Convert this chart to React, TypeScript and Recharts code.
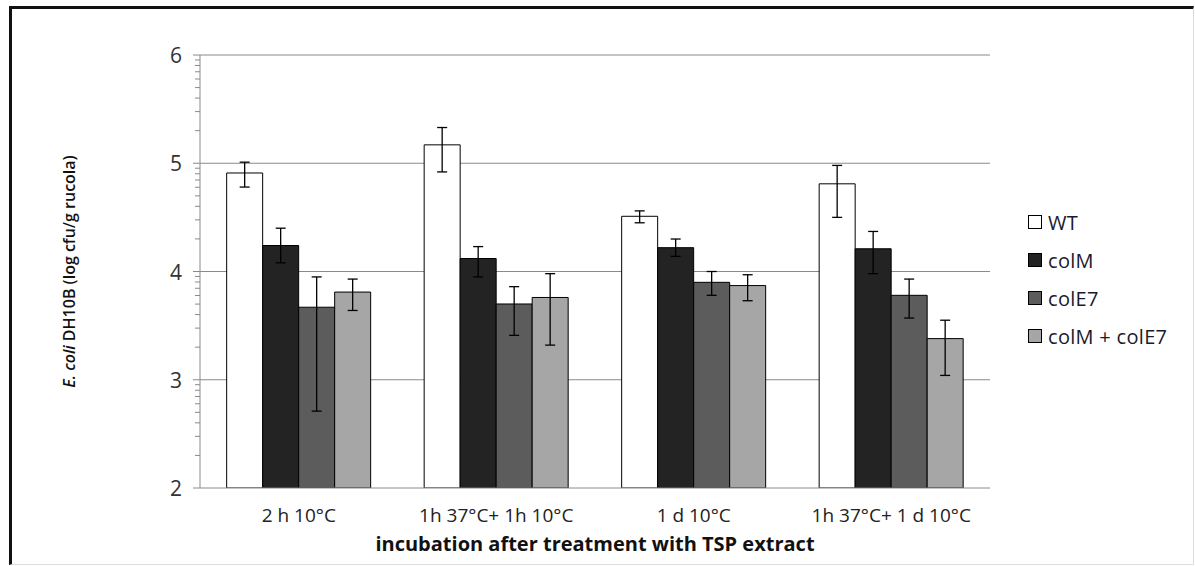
import React from 'react';
import { BarChart, Bar, XAxis, YAxis, CartesianGrid, ErrorBar, Legend, Label } from 'recharts';

const categories = ['2 h 10°C', '1h 37°C+ 1h 10°C', '1 d 10°C', '1h 37°C+ 1 d 10°C'];
const seriesNames = ['WT', 'colM', 'colE7', 'colM + colE7'];
const seriesColors = ['#ffffff', '#232323', '#5c5c5c', '#a6a6a6'];

const wtValues = [4.91, 5.17, 4.51, 4.81];
const colMValues = [4.24, 4.12, 4.22, 4.21];
const colE7Values = [3.67, 3.70, 3.90, 3.78];
const colMcolE7Values = [3.81, 3.76, 3.87, 3.38];

// [minus, plus]
const wtErrors = [[0.13, 0.10], [0.25, 0.16], [0.06, 0.05], [0.31, 0.17]];
const colMErrors = [[0.16, 0.16], [0.17, 0.11], [0.08, 0.08], [0.23, 0.16]];
const colE7Errors = [[0.96, 0.28], [0.29, 0.16], [0.12, 0.10], [0.21, 0.15]];
const colMcolE7Errors = [[0.17, 0.12], [0.44, 0.22], [0.14, 0.10], [0.34, 0.17]];

const majorTicks = [2, 3, 4, 5, 6];
const minorMultipliers = [2, 3, 4, 5, 6, 7, 8, 9];

const values = [wtValues, colMValues, colE7Values, colMcolE7Values];
const errors = [wtErrors, colMErrors, colE7Errors, colMcolE7Errors];

const data = categories.map((cat, i) => {
  const row: any = { cat };
  seriesNames.forEach((s, j) => {
    row['s' + j] = values[j][i];
    row['e' + j] = errors[j][i];
  });
  return row;
});

const minorTicks: number[] = [];
majorTicks.slice(0, -1).forEach((m) => {
  minorMultipliers.forEach((k) => minorTicks.push(m + Math.log10(k)));
});
const allTicks = [...majorTicks, ...minorTicks].sort((a, b) => a - b);

const FONT = '"Open Sans", sans-serif';

const YTick = (props: any) => {
  const { x, y, payload } = props;
  const v = payload.value;
  const isMajor = majorTicks.some((m) => Math.abs(m - v) < 1e-6);
  return (
    <g>
      <line x1={x - (isMajor ? 7 : 5)} x2={x} y1={y} y2={y} stroke="#8a8a8a" strokeWidth={1} />
      {isMajor && (
        <text x={x - 18} y={y} textAnchor="end" dominantBaseline="central" fontSize={21} fill="#333" fontFamily={FONT}>
          {v}
        </text>
      )}
    </g>
  );
};

const YTitle = (props: any) => {
  const { viewBox } = props;
  const cx = viewBox.x + 9;
  const cy = viewBox.y + viewBox.height / 2;
  return (
    <text
      x={cx}
      y={cy}
      transform={`rotate(-90, ${cx}, ${cy})`}
      textAnchor="middle"
      dominantBaseline="central"
      fontSize={16}
      fontWeight={600}
      fill="#111"
      fontFamily={FONT}
    >
      <tspan fontStyle="italic">E. coli</tspan>
      <tspan> DH10B (log cfu/g rucola)</tspan>
    </text>
  );
};

const LegendContent = () => (
  <div style={{ fontFamily: FONT, fontSize: 20, color: '#1a1a2e', letterSpacing: 0.3 }}>
    {seriesNames.map((s, i) => (
      <div key={s} style={{ display: 'flex', alignItems: 'center', height: 38 }}>
        <span
          style={{
            display: 'inline-block',
            width: 12,
            height: 12,
            background: seriesColors[i],
            border: '1px solid #000',
            marginRight: 6,
          }}
        />
        <span>{s}</span>
      </div>
    ))}
  </div>
);

export default function App() {
  return (
    <div style={{ position: 'absolute', left: 0, top: 0, width: 1195, height: 566, background: '#fff', overflow: 'hidden' }}>
      <div
        style={{
          position: 'absolute',
          left: 9,
          top: 6,
          width: 1195 - 9 - 3 - 2,
          height: 566 - 6 - 3 - 2,
          borderTop: '3px solid #111',
          borderLeft: '3px solid #111',
          borderRight: '1px solid #ddd',
          borderBottom: '1px solid #ddd',
        }}
      />
      <div style={{ position: 'absolute', left: 0, top: 0 }}>
        <BarChart
          width={1195}
          height={566}
          data={data}
          margin={{ top: 55, right: 205, bottom: 48, left: 60 }}
          barCategoryGap="13.5%"
          barGap={0}
        >
          <CartesianGrid vertical={false} horizontalValues={[3, 4, 5, 6]} stroke="#8a8a8a" strokeWidth={1} />
          <XAxis
            dataKey="cat"
            tickLine={false}
            axisLine={{ stroke: '#8a8a8a' }}
            tickMargin={15}
            height={30}
            tick={{ fontSize: 19, fill: '#222', fontFamily: FONT }}
            interval={0}
          >
            <Label
              value="incubation after treatment with TSP extract"
              position="bottom"
              offset={19}
              style={{ fontSize: 20, fontWeight: 700, fill: '#111', fontFamily: FONT }}
            />
          </XAxis>
          <YAxis
            type="number"
            domain={[2, 6]}
            ticks={allTicks}
            interval={0}
            width={140}
            tickLine={false}
            tickSize={0}
            tickMargin={0}
            axisLine={{ stroke: '#8a8a8a' }}
            tick={<YTick />}
            allowDataOverflow
          >
            <Label content={<YTitle />} />
          </YAxis>
          <Legend
            layout="vertical"
            align="center"
            verticalAlign="middle"
            content={<LegendContent />}
            wrapperStyle={{ left: 1028, top: 203, width: 165 }}
          />
          {seriesNames.map((s, j) => (
            <Bar
              key={s}
              dataKey={'s' + j}
              name={s}
              fill={seriesColors[j]}
              stroke="#000"
              strokeWidth={1}
              isAnimationActive={false}
            >
              <ErrorBar dataKey={'e' + j} stroke="#000" strokeWidth={1.3} width={5} />
            </Bar>
          ))}
        </BarChart>
      </div>
    </div>
  );
}
